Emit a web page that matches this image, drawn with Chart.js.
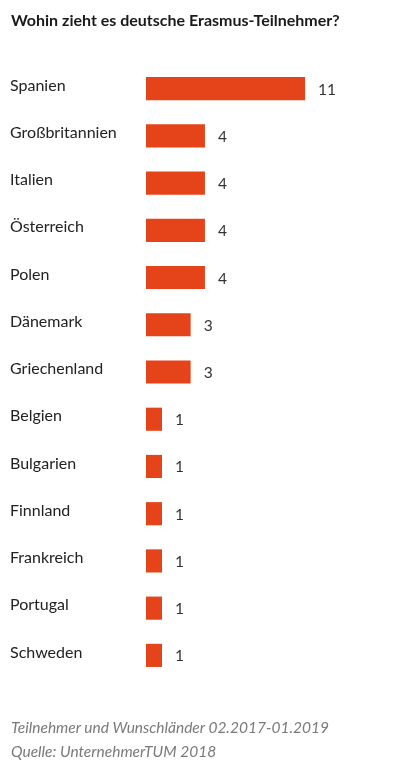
<!DOCTYPE html>
<html lang="de">
<head>
<meta charset="utf-8">
<title>Wohin zieht es deutsche Erasmus-Teilnehmer?</title>
<script src="https://cdn.jsdelivr.net/npm/chart.js@4"></script>
<style>
  html, body { margin: 0; padding: 0; background: #fff; }
  body { width: 399px; height: 782px; position: relative; overflow: hidden; font-family: "Lato", "Open Sans", sans-serif; }
  #title { position: absolute; left: 11px; top: 10px; font-size: 16px; font-weight: bold; color: #1a1a1a; }
  #wrap { position: absolute; left: 0; top: 0; width: 399px; height: 782px; }
  .note { position: absolute; left: 11px; font-size: 15.5px; font-style: italic; color: #7a7a7a; }
</style>
</head>
<body>
<div id="wrap"><canvas id="chart"></canvas></div>
<div id="title">Wohin zieht es deutsche Erasmus-Teilnehmer?</div>
<div class="note" style="top:718px">Teilnehmer und Wunschländer 02.2017-01.2019</div>
<div class="note" style="top:742px">Quelle: UnternehmerTUM 2018</div>
<script>
/* Länder und Anzahl Teilnehmer */
const countries = ["Spanien", "Großbritannien", "Italien", "Österreich", "Polen",
  "Dänemark", "Griechenland", "Belgien", "Bulgarien", "Finnland",
  "Frankreich", "Portugal", "Schweden"];
const participants = [11, 4, 4, 4, 4, 3, 3, 1, 1, 1, 1, 1, 1];

/* Zahlen rechts neben den Balken */
const valueLabels = {
  id: "valueLabels",
  afterDatasetsDraw(chart) {
    const ctx = chart.ctx;
    const meta = chart.getDatasetMeta(0);
    ctx.save();
    ctx.font = "15.5px Lato, 'Open Sans', sans-serif";
    ctx.fillStyle = "#333";
    ctx.textBaseline = "middle";
    ctx.textAlign = "left";
    meta.data.forEach((bar, i) => {
      ctx.fillText(participants[i], bar.x + 13, bar.y + 1);
    });
    ctx.restore();
  }
};

new Chart(document.getElementById("chart"), {
  type: "bar",
  data: {
    labels: countries,
    datasets: [{
      data: participants,
      backgroundColor: "#e5431a",
      base: -0.12,
      barPercentage: 0.49,
      categoryPercentage: 1
    }]
  },
  options: {
    indexAxis: "y",
    responsive: true,
    maintainAspectRatio: false,
    animation: false,
    layout: { padding: { top: 65, bottom: 103, left: 10, right: 51 } },
    plugins: {
      legend: { display: false },
      tooltip: { enabled: false }
    },
    scales: {
      x: { display: false, min: -0.12, max: 14 },
      y: {
        grid: { display: false },
        border: { display: false },
        afterFit: scale => { scale.width = 136; },
        ticks: {
          crossAlign: "far",
          labelOffset: -3,
          color: "#222",
          font: { size: 16, family: "Lato, 'Open Sans', sans-serif" }
        }
      }
    }
  },
  plugins: [valueLabels]
});
</script>
</body>
</html>
